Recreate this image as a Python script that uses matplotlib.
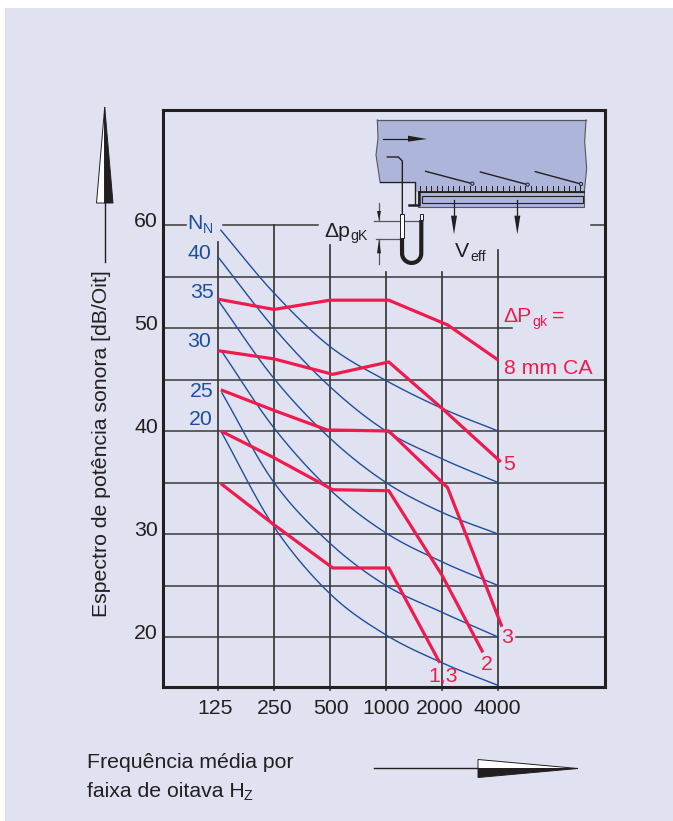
#!/usr/bin/python
import numpy as np
import matplotlib
matplotlib.use('Agg')
from matplotlib import pyplot as plt
from matplotlib.patches import Polygon, Rectangle, Circle

freq_labels = ['125', '250', '500', '1000', '2000', '4000']
y_ticks = [20, 30, 40, 50, 60]
grid_full = [25, 30, 35, 40, 45, 55]

# blue curves, named after the value they end on at 4000
curve_x = {
    40: [0.05, 1, 2, 3, 4, 5],
    35: [0.0, 1, 2, 3, 4, 5],
    30: [0.0, 1, 2, 3, 4, 5],
    25: [0.07, 1, 2, 3, 4, 5],
    20: [0.07, 1, 2, 3, 4, 5],
    15: [0.07, 1, 2, 3, 4, 5],
}
curve_40 = [59.5, 53.4, 48.2, 44.9, 42.2, 40.0]
curve_35 = [56.9, 50.0, 44.3, 40.0, 37.3, 35.0]
curve_30 = [52.7, 45.1, 39.3, 35.0, 32.1, 30.0]
curve_25 = [47.7, 40.3, 34.3, 30.1, 27.3, 25.0]
curve_20 = [43.7, 35.0, 29.1, 25.0, 22.4, 20.0]
curve_15 = [39.8, 30.7, 24.2, 20.2, 17.5, 15.3]

# red lines, one for each pressure drop
red_8_x = [0.0, 1, 2, 3.05, 4.1, 5.0]
red_8 = [52.8, 51.8, 52.7, 52.7, 50.3, 46.9]
red_5_x = [0.0, 1, 2.05, 3.05, 4.0, 5.05]
red_5 = [47.8, 47.0, 45.5, 46.7, 42.2, 37.0]
red_3_x = [0.05, 1, 1.95, 3.05, 4.1, 5.07]
red_3 = [44.0, 42.0, 40.1, 40.0, 34.5, 21.0]
red_2_x = [0.05, 1, 2.05, 3.05, 4.0, 4.73]
red_2 = [40.0, 37.4, 34.3, 34.2, 26.0, 18.5]
red_1_x = [0.05, 1, 2.05, 3.05, 3.96]
red_1 = [34.9, 30.9, 26.7, 26.7, 17.5]

W, H = 673, 821
BG = '#E0E2F1'
DARK = '#231F20'
GRID = '#3A3839'
BLUE = '#1F4E9E'
RED = '#EE1C4E'
DUCT = '#AEB5DA'
FONT = 'Liberation Sans'
SIZE = 15.3
SUB = 10.2


def smooth(x, y, n=20):
    # catmull-rom through the points that were read
    x = np.array(x, dtype=float)
    y = np.array(y, dtype=float)
    px = np.concatenate(([2*x[0]-x[1]], x, [2*x[-1]-x[-2]]))
    py = np.concatenate(([2*y[0]-y[1]], y, [2*y[-1]-y[-2]]))
    xs = []
    ys = []
    for i in range(1, len(px)-2):
        for t in np.linspace(0, 1, n):
            xs.append(0.5*(2*px[i] + (px[i+1]-px[i-1])*t + (2*px[i-1]-5*px[i]+4*px[i+1]-px[i+2])*t**2 + (3*px[i]-px[i-1]-3*px[i+1]+px[i+2])*t**3))
            ys.append(0.5*(2*py[i] + (py[i+1]-py[i-1])*t + (2*py[i-1]-5*py[i]+4*py[i+1]-py[i+2])*t**2 + (3*py[i]-py[i-1]-3*py[i+1]+py[i+2])*t**3))
    return xs, ys


def label(ov, x, y, s, size=SIZE, color=DARK, **kw):
    # y is the text baseline unless told otherwise
    kw.setdefault('ha', 'left')
    kw.setdefault('va', 'baseline')
    ov.text(x, y, s, fontsize=size, color=color, family=FONT, **kw)


def z(x, y):
    # coordinates of the little duct sketch
    return 360 + x/3.0, 105 + y/3.0


def drawSketch(ov):
    duct = [(52, 45), (678, 45), (674, 110), (680, 190), (673, 260), (178, 260), (165, 262), (165, 230),
            (60, 230), (54, 190), (48, 150), (54, 100)]
    ov.add_patch(Polygon([z(*p) for p in duct], closed=True, fc=DUCT, ec='none', zorder=5))
    ov.plot(*zip(*[z(*p) for p in duct[:2]]), color='#55565F', lw=0.9, zorder=6)
    ov.plot(*zip(*[z(*p) for p in duct[1:5]]), color='#55565F', lw=0.8, zorder=6)
    ov.plot(*zip(*[z(*p) for p in [(60, 230), (54, 190), (48, 150), (54, 100), (52, 45)]]), color='#55565F', lw=0.8, zorder=6)
    ov.plot(*zip(*[z(*p) for p in [(60, 230), (165, 230), (165, 300)]]), color=DARK, lw=1.0, zorder=6)

    # plate under the duct
    x0, y0 = z(175, 262)
    x1, y1 = z(672, 305)
    ov.add_patch(Rectangle((x0, y0), x1-x0, y1-y0, fc=DUCT, ec='#55565F', lw=0.8, zorder=5))
    x0, y0 = z(187, 273)
    x1, y1 = z(668, 295)
    ov.add_patch(Rectangle((x0, y0), x1-x0, y1-y0, fc=DUCT, ec=DARK, lw=0.8, zorder=6))
    ov.plot(*zip(*[z(178, 260), z(672, 260)]), color=DARK, lw=1.3, zorder=7)
    ov.plot(*zip(*[z(176, 262), z(176, 300), z(148, 300)]), color=DARK, lw=1.8, zorder=7)

    # perforation ticks
    for tx in np.arange(180, 672, 16.6):
        ov.plot(*zip(*[z(tx, 243), z(tx, 260)]), color=DARK, lw=0.7, zorder=7)

    # dampers
    for a, b in [((197, 199), (337, 236)), ((361, 201), (503, 239)), ((526, 200), (663, 237))]:
        ov.plot(*zip(*[z(*a), z(*b)]), color=DARK, lw=1.0, zorder=7)
        ov.add_patch(Circle(z(*b), 1.6, fc=DUCT, ec=DARK, lw=0.7, zorder=8))

    # air flow arrows
    ov.plot(*zip(*[z(70, 102), z(150, 102)]), color=DARK, lw=0.9, zorder=7)
    ov.add_patch(Polygon([z(144, 92), z(201, 102), z(144, 110)], fc=DARK, ec='none', zorder=7))
    for ax in [282, 472]:
        ov.plot(*zip(*[z(ax, 285), z(ax, 340)]), color=DARK, lw=0.9, zorder=7)
        ov.add_patch(Polygon([z(ax-9, 332), z(ax+9, 332), z(ax, 388)], fc=DARK, ec='none', zorder=7))

    # u-tube gauge
    ov.plot(*zip(*[z(82, 156), z(115, 156), z(127, 168), z(127, 330)]), color=DARK, lw=1.0, zorder=7)
    th = np.linspace(np.pi, 2*np.pi, 30)
    ux = [z(126, 398)[0]] + list(z(155, 445)[0] + 9.6*np.cos(th)) + [z(184, 345)[0]]
    uy = [z(126, 398)[1]] + list(z(155, 445)[1] - 9.6*np.sin(th)) + [z(184, 345)[1]]
    ov.plot(ux, uy, color=DARK, lw=3.0, zorder=7, solid_capstyle='butt')
    for tx, t0, t1 in [(126, 328, 398), (184, 328, 345)]:
        a = z(tx-5, t0)
        b = z(tx+5, t1)
        ov.add_patch(Rectangle(a, b[0]-a[0], b[1]-a[1], fc='white', ec=DARK, lw=0.7, zorder=8))

    # pressure difference marks
    ov.plot(*zip(*[z(42, 347), z(180, 347)]), color='#55565F', lw=0.9, zorder=6)
    ov.plot(*zip(*[z(48, 401), z(125, 401)]), color='#55565F', lw=0.9, zorder=6)
    ov.plot(*zip(*[z(57, 295), z(57, 345)]), color='#55565F', lw=0.9, zorder=6)
    ov.add_patch(Polygon([z(51, 318), z(63, 318), z(57, 346)], fc=DARK, ec='none', zorder=7))
    ov.plot(*zip(*[z(57, 403), z(57, 476)]), color='#55565F', lw=0.9, zorder=6)
    ov.add_patch(Polygon([z(51, 445), z(63, 445), z(57, 403)], fc=DARK, ec='none', zorder=7))


def main():
    fig = plt.figure(figsize=(W/100.0, H/100.0), dpi=100, facecolor='white')
    fig.add_artist(Rectangle((5.0/W, 0), 668.0/W, 1-8.0/H, transform=fig.transFigure, fc=BG, ec='none', zorder=-5))

    ax = fig.add_axes([163.0/W, 1-687.0/H, 442.0/W, 577.0/H])
    ax.set_facecolor('none')
    ax.set_xlim((163-218)/56.0, (605-218)/56.0)
    ax.set_ylim(60-(687-225)/10.3, 60-(110-225)/10.3)
    for s in ax.spines.values():
        s.set_linewidth(2.2)
        s.set_color(DARK)
    ax.set_xticks([])
    ax.set_yticks([])

    # grid, some of the lines stop short in the original
    for v in grid_full:
        ax.plot([-1, 7], [v, v], color=GRID, lw=1.1, zorder=1)
    ax.plot([-1, 5.0], [20, 20], color=GRID, lw=1.1, zorder=1)
    ax.plot([5.32, 7], [20, 20], color=GRID, lw=1.1, zorder=1)
    ax.plot([-1, 5.25], [50, 50], color=GRID, lw=1.1, zorder=1)
    ax.plot([-1, -0.58], [60, 60], color=GRID, lw=1.1, zorder=1)
    ax.plot([0.09, 1.79], [60, 60], color=GRID, lw=1.1, zorder=1)
    ax.plot([6.66, 7], [60, 60], color=GRID, lw=1.1, zorder=1)
    tops = [58.35, 60, 58.05, 55.4, 55.4, 57.6]
    for i in range(len(tops)):
        ax.plot([i, i], [14.9, tops[i]], color=GRID, lw=1.25, zorder=1, clip_on=False)

    curves = {40: curve_40, 35: curve_35, 30: curve_30, 25: curve_25, 20: curve_20, 15: curve_15}
    for k in curves:
        xs, ys = smooth(curve_x[k], curves[k])
        ax.plot(xs, ys, color=BLUE, lw=1.0, zorder=2)

    for x, y in [(red_8_x, red_8), (red_5_x, red_5), (red_3_x, red_3), (red_2_x, red_2), (red_1_x, red_1)]:
        ax.plot(x, y, color=RED, lw=2.3, zorder=3, solid_joinstyle='miter', solid_capstyle='butt')

    # overlay in pixels for the labels and the sketch
    ov = fig.add_axes([0, 0, 1, 1])
    ov.set_xlim(0, W)
    ov.set_ylim(H, 0)
    ov.axis('off')

    # tick labels
    for v in y_ticks:
        py = ax.transData.transform((0, v))[1]
        label(ov, 158, H-py+2, str(v), ha='right')
    for i in range(len(freq_labels)):
        px = ax.transData.transform((i, 20))[0]
        shift = [-3, 0.5, 0.5, 0, -2, -1][i]
        label(ov, px+shift, 714, freq_labels[i], ha='center')

    # series labels
    label(ov, 187, 229, 'N', color=BLUE)
    label(ov, 203, 233, 'N', color=BLUE, size=SUB)
    for txt, lx, ly in [('40', 188, 259), ('35', 190, 298), ('30', 187, 347), ('25', 190, 397), ('20', 189, 425)]:
        label(ov, lx, ly, txt, color=BLUE)

    label(ov, 503, 322, '\u0394P', color=RED)
    label(ov, 532, 326, 'gk', color=RED, size=SUB)
    label(ov, 552, 322, '=', color=RED)
    label(ov, 504, 374, '8 mm CA', color=RED)
    label(ov, 503, 470, '5', color=RED)
    label(ov, 501, 643, '3', color=RED)
    label(ov, 481, 670, '2', color=RED)
    label(ov, 428, 681, '1,3', color=RED)

    label(ov, 324, 237, '\u0394p')
    label(ov, 350.5, 240, 'gK', size=SUB)
    label(ov, 455, 257, 'V')
    label(ov, 470, 261, 'eff', size=SUB)

    # axis titles
    label(ov, 102, 443.5, 'Espectro de pot\u00eancia sonora [dB/Oit]', rotation=90, ha='center', va='center')
    label(ov, 87, 768, 'Frequ\u00eancia m\u00e9dia por')
    label(ov, 87, 797, 'faixa de oitava H')
    label(ov, 244, 800, 'Z', size=SUB)

    # direction arrows
    ov.plot([104.7, 104.7], [203, 262], color=DARK, lw=1.0)
    ov.add_patch(Polygon([(104.7, 107), (96.5, 203), (104.7, 203)], fc='white', ec=DARK, lw=0.7))
    ov.add_patch(Polygon([(104.7, 107), (113, 203), (104.7, 203)], fc=DARK, ec=DARK, lw=0.7))
    ov.plot([374, 478], [768.5, 768.5], color=DARK, lw=1.0)
    ov.add_patch(Polygon([(578, 768.5), (478, 759.5), (478, 768.5)], fc='white', ec=DARK, lw=0.7))
    ov.add_patch(Polygon([(578, 768.5), (478, 777.5), (478, 768.5)], fc=DARK, ec=DARK, lw=0.7))

    drawSketch(ov)

    fig.savefig('out.png', dpi=100)


main()
